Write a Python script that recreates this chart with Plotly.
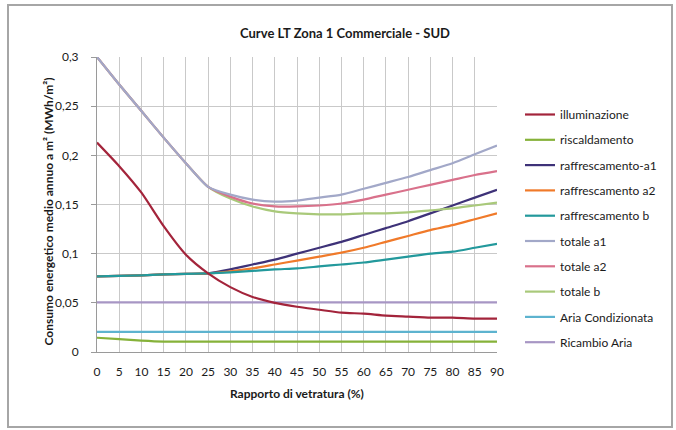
import plotly.graph_objects as go

# Rapporto di vetratura (%)
vetratura = [0, 5, 10, 15, 20, 25, 30, 35, 40, 45, 50, 55, 60, 65, 70, 75, 80, 85, 90]

# Consumo energetico medio annuo a m² (MWh/m²)
illuminazione = [0.213, 0.189, 0.162, 0.128, 0.099, 0.080, 0.066, 0.056, 0.050, 0.046,
                 0.043, 0.040, 0.039, 0.037, 0.036, 0.035, 0.035, 0.034, 0.034]
riscaldamento = [0.0145, 0.013, 0.0115, 0.0105, 0.0105, 0.0105, 0.0105, 0.0105, 0.0105, 0.0105,
                 0.0105, 0.0105, 0.0105, 0.0105, 0.0105, 0.0105, 0.0105, 0.0105, 0.0105]
raffrescamento_a1 = [0.077, 0.0775, 0.078, 0.079, 0.0795, 0.080, 0.084, 0.089, 0.094, 0.100,
                     0.106, 0.112, 0.119, 0.126, 0.133, 0.141, 0.149, 0.157, 0.165]
raffrescamento_a2 = [0.077, 0.0775, 0.078, 0.079, 0.0795, 0.080, 0.082, 0.085, 0.089, 0.093,
                     0.097, 0.101, 0.106, 0.112, 0.118, 0.124, 0.129, 0.135, 0.141]
raffrescamento_b = [0.077, 0.0775, 0.078, 0.079, 0.0795, 0.080, 0.081, 0.0825, 0.084, 0.085,
                    0.087, 0.089, 0.091, 0.094, 0.097, 0.100, 0.102, 0.106, 0.110]
totale_a1 = [0.300, 0.272, 0.245, 0.218, 0.192, 0.168, 0.160, 0.155, 0.153, 0.154,
             0.157, 0.160, 0.166, 0.172, 0.178, 0.185, 0.192, 0.201, 0.210]
totale_a2 = [0.300, 0.272, 0.245, 0.218, 0.192, 0.168, 0.158, 0.151, 0.148, 0.148,
             0.149, 0.151, 0.155, 0.160, 0.165, 0.170, 0.175, 0.180, 0.184]
totale_b = [0.300, 0.272, 0.245, 0.218, 0.192, 0.168, 0.156, 0.148, 0.143, 0.141,
            0.140, 0.140, 0.141, 0.141, 0.142, 0.144, 0.146, 0.149, 0.152]
aria_condizionata = [0.0205] * 19
ricambio_aria = [0.0505] * 19

y_ticks = [0, 0.05, 0.1, 0.15, 0.2, 0.25, 0.3]
y_tick_labels = ["0", "0,05", "0,1", "0,15", "0,2", "0,25", "0,3"]

FONT = "Lato, 'Open Sans', sans-serif"

# (name, values, colour, legend rank); listed in drawing order
series = [
    ("Ricambio Aria", ricambio_aria, "#A796C4", 10),
    ("Aria Condizionata", aria_condizionata, "#5DB3CF", 9),
    ("riscaldamento", riscaldamento, "#86B23A", 2),
    ("raffrescamento-a1", raffrescamento_a1, "#3E3278", 3),
    ("raffrescamento a2", raffrescamento_a2, "#F07A2A", 4),
    ("raffrescamento b", raffrescamento_b, "#23999C", 5),
    ("totale b", totale_b, "#A9C97A", 8),
    ("totale a2", totale_a2, "#D9718B", 7),
    ("totale a1", totale_a1, "#A2A8C8", 6),
    ("illuminazione", illuminazione, "#A3243B", 1),
]

fig = go.Figure()
for name, values, colour, rank in series:
    fig.add_trace(go.Scatter(
        x=vetratura, y=values, name=name, mode="lines",
        line=dict(color=colour, width=2.2, shape="spline", smoothing=0.6),
        legendgroup=name, legendrank=rank,
    ))

# chart frame
fig.add_shape(type="rect", xref="paper", yref="paper",
              x0=(8 - 97) / 400, x1=(672 - 97) / 400,
              y0=(352 - 427) / 295, y1=(352 - 5) / 295,
              line=dict(color="#A6A6A6", width=2), layer="below")

fig.add_annotation(text="<b>Rapporto di vetratura (%)</b>", xref="paper", yref="paper",
                   x=(297 - 97) / 400, y=(352 - 403) / 295, showarrow=False,
                   font=dict(family=FONT, size=12, color="#1A1A1A"))
fig.add_annotation(text="<b>Consumo energetico medio annuo a m² (MWh/m²)</b>",
                   xref="paper", yref="paper", textangle=-90,
                   x=(39 - 97) / 400, y=(352 - 212) / 295, showarrow=False,
                   font=dict(family=FONT, size=12, color="#1A1A1A"))

fig.update_layout(
    width=676, height=430,
    margin=dict(l=97, r=179, t=57, b=78),
    paper_bgcolor="white", plot_bgcolor="white",
    font=dict(family=FONT, size=12, color="#1A1A1A"),
    title=dict(text="<b>Curve LT Zona 1 Commerciale - SUD</b>",
               x=345 / 676, xanchor="center", y=1 - 33 / 430, yanchor="middle",
               font=dict(family=FONT, size=13, color="#1A1A1A")),
    showlegend=True,
    legend=dict(x=(520 - 97) / 400, xanchor="left", y=(352 - 100) / 295, yanchor="top",
                font=dict(family=FONT, size=12, color="#1A1A1A"),
                tracegroupgap=6.3, itemwidth=30, bgcolor="rgba(0,0,0,0)"),
)
fig.update_xaxes(range=[0, 90], tickmode="array", tickvals=vetratura,
                 showgrid=True, gridcolor="#C9C9C9", gridwidth=1,
                 showline=True, linecolor="#9A9A9A", linewidth=1,
                 ticks="", ticklabelstandoff=9, zeroline=False,
                 tickfont=dict(family=FONT, size=12))
fig.update_yaxes(range=[0, 0.3], tickmode="array", tickvals=y_ticks, ticktext=y_tick_labels,
                 showgrid=True, gridcolor="#C9C9C9", gridwidth=1,
                 showline=True, linecolor="#9A9A9A", linewidth=1,
                 ticks="outside", ticklen=5, tickcolor="#9A9A9A",
                 ticklabelstandoff=10, zeroline=False,
                 tickfont=dict(family=FONT, size=12))

fig.write_html("out.html")
